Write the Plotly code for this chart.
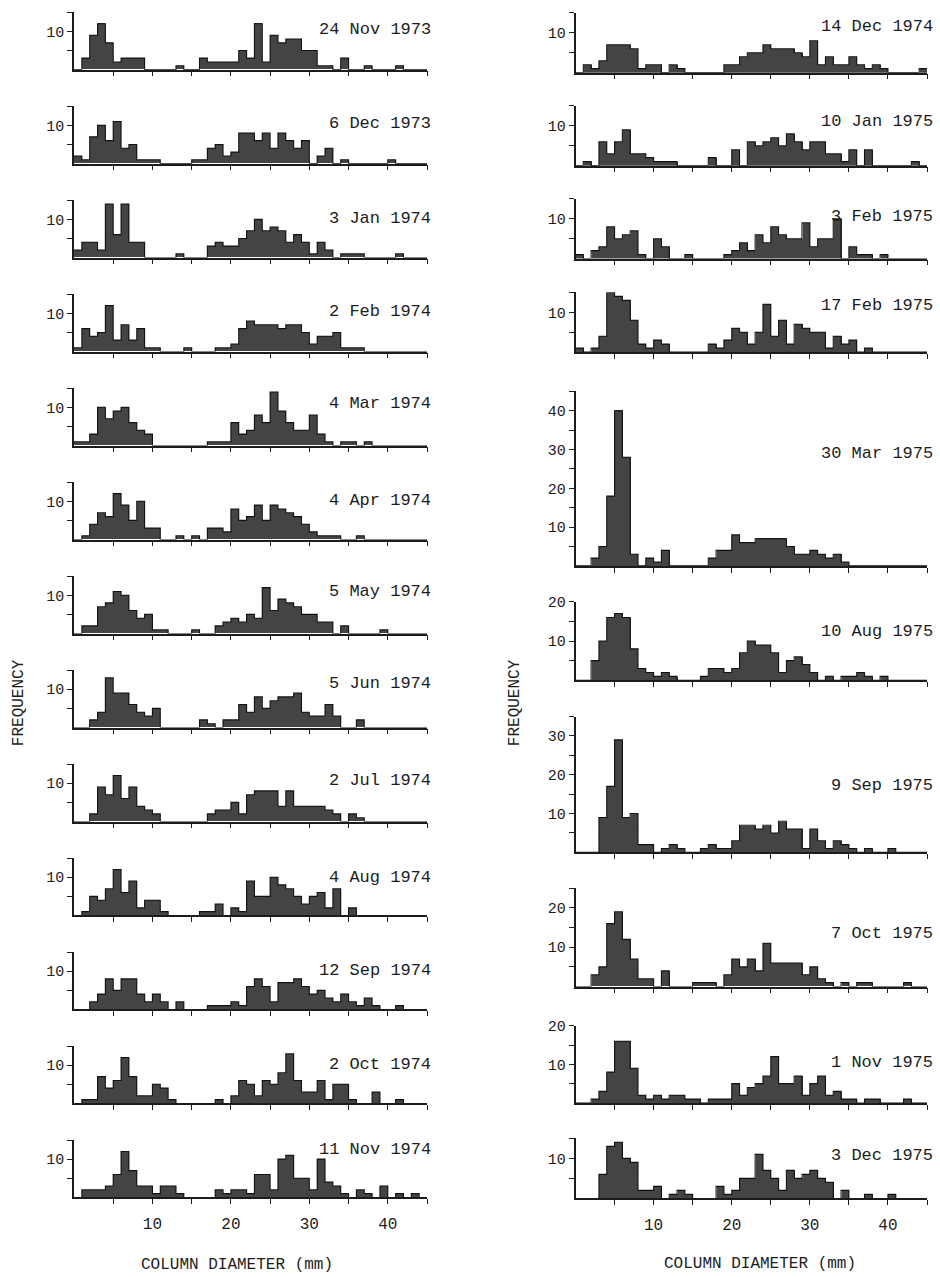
import plotly.graph_objects as go

W, H = 940, 1277
BINS = list(range(45))  # bin k covers [k, k+1) mm

# ---- left column (frequency per 1-mm class of column diameter) ----
nov24_1973 = [0,3,9,12,7,2,3,3,3,0,0,0,0,1,0,0,3,2,2,2,2,5,3,12,2,9,7,8,8,5,5,1,1,0,3,0,0,1,0,0,0,1,0,0,0]
dec06_1973 = [2,1,7,10,6,11,4,5,1,1,1,0,0,0,0,1,1,4,5,2,3,8,8,6,8,4,8,6,4,6,0,2,4,0,1,0,0,0,0,0,1,0,0,0,0]
jan03_1974 = [2,4,4,2,14,6,14,4,4,0,0,0,0,1,0,0,0,3,4,3,3,5,7,10,7,8,7,4,6,4,1,4,2,0,1,1,1,0,0,0,0,1,0,0,0]
feb02_1974 = [1,6,4,5,12,3,7,3,6,1,1,0,0,0,1,0,0,0,1,1,2,6,8,7,7,7,6,7,7,5,2,4,4,5,1,1,1,0,0,0,0,0,0,0,0]
mar04_1974 = [1,1,3,10,7,9,10,6,4,3,0,0,0,0,0,0,0,1,1,1,6,3,4,8,6,14,9,6,4,4,8,3,1,0,1,1,0,1,0,0,0,0,0,0,0]
apr04_1974 = [0,1,4,7,6,12,9,5,10,3,3,0,0,1,0,1,0,3,3,2,8,5,6,9,5,9,8,7,6,4,2,1,1,1,0,0,1,0,0,0,0,0,0,0,0]
may05_1974 = [0,2,2,7,8,11,10,6,4,5,1,1,0,0,0,1,0,0,2,3,4,3,5,4,12,6,9,8,7,5,5,3,3,0,2,0,0,0,0,1,0,0,0,0,0]
jun05_1974 = [0,0,2,4,13,9,9,6,4,3,5,0,0,0,0,0,2,1,0,2,2,6,4,8,5,7,8,8,9,4,3,3,6,3,0,0,2,0,0,0,0,0,0,0,0]
jul02_1974 = [0,0,2,9,7,12,6,9,4,3,2,0,0,0,0,0,0,2,3,3,5,2,7,8,8,8,4,8,4,4,4,4,3,2,0,2,1,0,0,0,0,0,0,0,0]
aug04_1974 = [0,1,5,4,7,12,6,9,2,4,4,1,0,0,0,0,1,1,3,0,2,1,9,5,5,10,8,7,5,3,5,6,2,7,0,2,0,0,0,0,0,0,0,0,0]
sep12_1974 = [0,0,2,4,8,5,8,8,4,2,4,2,0,2,0,0,0,1,1,1,2,1,6,8,6,2,7,7,8,6,4,5,3,2,4,2,1,3,1,0,0,1,0,0,0]
oct02_1974 = [0,1,1,7,4,6,12,7,2,2,5,4,1,0,0,0,0,0,1,0,2,6,5,2,6,5,8,13,6,3,3,6,1,5,5,1,0,0,3,0,0,1,0,0,0]
nov11_1974 = [0,2,2,2,3,6,12,7,3,3,1,3,3,1,0,0,0,0,2,1,2,2,1,6,6,2,10,11,5,5,2,10,4,3,1,0,2,1,0,3,0,1,0,1,0]

# ---- right column ----
dec14_1974 = [0,2,1,3,7,7,7,6,1,2,2,0,2,1,0,0,0,0,0,2,2,4,5,5,7,6,6,6,5,4,8,2,4,2,2,4,2,1,2,1,0,0,0,0,1]
jan10_1975 = [0,1,0,6,3,6,9,3,3,2,1,1,1,0,0,0,0,2,0,0,4,0,6,5,6,7,5,8,6,4,6,6,3,3,1,4,0,4,0,0,0,0,0,1,0]
feb03_1975 = [1,0,2,3,8,5,6,7,1,0,5,3,0,0,1,0,0,0,0,1,2,4,2,6,4,8,6,5,5,9,3,5,5,10,0,3,1,1,0,1,0,0,0,0,0]
feb17_1975 = [1,0,1,4,15,14,13,8,2,1,3,2,0,0,0,0,0,2,1,3,6,5,2,5,12,4,8,2,7,6,5,5,1,4,2,3,0,1,0,0,0,0,0,0,0]
mar30_1975 = [0,0,2,5,18,40,28,3,0,2,1,4,0,0,0,0,0,2,4,4,8,6,6,7,7,7,7,5,3,3,4,3,2,3,1,0,0,0,0,0,0,0,0,0,0]
aug10_1975 = [0,0,5,10,16,17,16,8,3,2,1,2,1,0,0,0,1,3,3,2,3,7,10,9,9,7,2,5,6,4,2,0,1,0,1,1,2,1,0,1,0,0,0,0,0]
sep09_1975 = [0,0,0,9,17,29,9,10,2,2,0,1,2,1,0,0,1,2,1,1,3,7,7,6,7,5,8,6,6,1,6,3,1,3,2,1,0,1,0,0,1,0,0,0,0]
oct07_1975 = [0,0,3,5,16,19,12,7,2,2,0,4,0,0,0,1,1,1,0,3,7,5,7,4,11,6,6,6,6,3,5,2,1,0,1,0,1,1,0,0,0,0,1,0,0]
nov01_1975 = [0,0,1,3,8,16,16,9,2,1,2,1,2,2,1,1,0,1,1,1,5,2,4,5,7,12,5,5,7,2,5,7,2,3,1,1,0,1,1,0,0,0,1,0,0]
dec03_1975 = [0,0,0,6,13,14,10,9,2,2,3,0,1,2,1,0,0,0,3,1,2,5,5,11,7,5,2,7,5,6,7,5,4,0,2,0,0,1,0,0,1,0,0,0,0]

left_series = [nov24_1973, dec06_1973, jan03_1974, feb02_1974, mar04_1974, apr04_1974,
               may05_1974, jun05_1974, jul02_1974, aug04_1974, sep12_1974, oct02_1974, nov11_1974]
left_labels = ["24 Nov 1973", "6 Dec 1973", "3 Jan 1974", "2 Feb 1974", "4 Mar 1974",
               "4 Apr 1974", "5 May 1974", "5 Jun 1974", "2 Jul 1974", "4 Aug 1974",
               "12 Sep 1974", "2 Oct 1974", "11 Nov 1974"]
left_ymax = [15] * 13

right_series = [dec14_1974, jan10_1975, feb03_1975, feb17_1975, mar30_1975,
                aug10_1975, sep09_1975, oct07_1975, nov01_1975, dec03_1975]
right_labels = ["14 Dec 1974", "10 Jan 1975", "3 Feb 1975", "17 Feb 1975", "30 Mar 1975",
                "10 Aug 1975", "9 Sep 1975", "7 Oct 1975", "1 Nov 1975", "3 Dec 1975"]
right_ymax = [15, 15, 15, 15, 45, 20, 35, 25, 20, 15]

# ---- layout geometry (pixels) ----
left_x = (74, 427)
right_x = (575.5, 927)
left_base = [63 + 94.5 * i for i in range(13)]
left_ppu = [3.85] * 13
left_label_y = [10.4, 10.4, 10.2, 10.6, 10.9, 10.2, 11.0, 11.5, 10.7, 9.9, 10.2, 10.2, 12.5]
right_base = [66, 159.5, 253, 347, 562, 677, 850, 985, 1102, 1198]
right_ppu = [4.0, 4.0, 4.0, 4.0, 3.9, 3.95, 3.9, 3.96, 3.88, 4.03]
right_label_y = [11.7, 11.0, 10.7, 11.7, 29, 12.4, 17.3, 13.6, 10.4, 10.7]

MONO = "Liberation Mono, Courier New, monospace"
INK = "#1c1c1c"
BAR = "#444444"

fig = go.Figure()
layout = dict(width=W, height=H, margin=dict(l=0, r=0, t=0, b=0),
              paper_bgcolor="white", plot_bgcolor="white", showlegend=False,
              bargap=0, annotations=[])

panels = []
for i in range(13):
    panels.append((left_series[i], left_labels[i], left_ymax[i], left_x, left_base[i],
                   left_ppu[i], left_label_y[i], 6, i == 12))
for i in range(10):
    panels.append((right_series[i], right_labels[i], right_ymax[i], right_x, right_base[i],
                   right_ppu[i], right_label_y[i], 8, i == 9))

for n, (data, label, ymax, xr, base, ppu, ly, lshift, bottom) in enumerate(panels, start=1):
    xk = "xaxis" if n == 1 else f"xaxis{n}"
    yk = "yaxis" if n == 1 else f"yaxis{n}"
    xs = "x" if n == 1 else f"x{n}"
    ys = "y" if n == 1 else f"y{n}"
    # filled bars (no internal outlines)
    fig.add_trace(go.Bar(x=[k + 0.5 for k in BINS], y=data, width=1,
                         marker=dict(color=BAR, line=dict(width=0)),
                         xaxis=xs, yaxis=ys, showlegend=False, hoverinfo="skip"))
    # outer step outline of the histogram
    fig.add_trace(go.Scatter(x=BINS + [45], y=data + [data[-1]], mode="lines",
                             line=dict(shape="hv", color="#111111", width=1.1),
                             xaxis=xs, yaxis=ys, showlegend=False, hoverinfo="skip"))
    xt = list(range(5, 46, 5))
    layout[xk] = dict(domain=[xr[0] / W, xr[1] / W], range=[0, 45], anchor=ys,
                      showline=True, linecolor=INK, linewidth=1.5,
                      ticks="outside", ticklen=5, tickwidth=1.3, tickcolor=INK,
                      tickvals=xt,
                      ticktext=[(str(v) if (bottom and v % 10 == 0 and v < 45) else "") for v in xt],
                      tickfont=dict(family=MONO, size=16, color=INK),
                      ticklabelstandoff=6,
                      showgrid=False, zeroline=False, fixedrange=True)
    top = base - ymax * ppu
    yt = list(range(5, ymax + 1, 5))
    layout[yk] = dict(domain=[1 - base / H, 1 - top / H], range=[0, ymax], anchor=xs,
                      showline=True, linecolor=INK, linewidth=1.5,
                      ticks="outside", ticklen=5, tickwidth=1.3, tickcolor=INK,
                      tickvals=yt, ticktext=[(str(v) if v % 10 == 0 else "") for v in yt],
                      tickfont=dict(family=MONO, size=15, color=INK),
                      showgrid=False, zeroline=False, fixedrange=True)
    layout["annotations"].append(dict(text=label, x=45, y=ly, xref=xs, yref=ys,
                                      xshift=lshift,
                                      xanchor="right", yanchor="middle", showarrow=False,
                                      font=dict(family=MONO, size=17, color=INK)))

for (px, py, txt, ang) in [(19, 700, "FREQUENCY", -90), (515, 700, "FREQUENCY", -90),
                           (237, 1265, "COLUMN DIAMETER (mm)", 0),
                           (760, 1264, "COLUMN DIAMETER (mm)", 0)]:
    layout["annotations"].append(dict(text=txt, x=px / W, y=1 - py / H, xref="paper", yref="paper",
                                      xanchor="center", yanchor="middle", showarrow=False,
                                      textangle=ang,
                                      font=dict(family=MONO, size=16, color=INK)))

fig.update_layout(**layout)
fig.write_html("out.html")
